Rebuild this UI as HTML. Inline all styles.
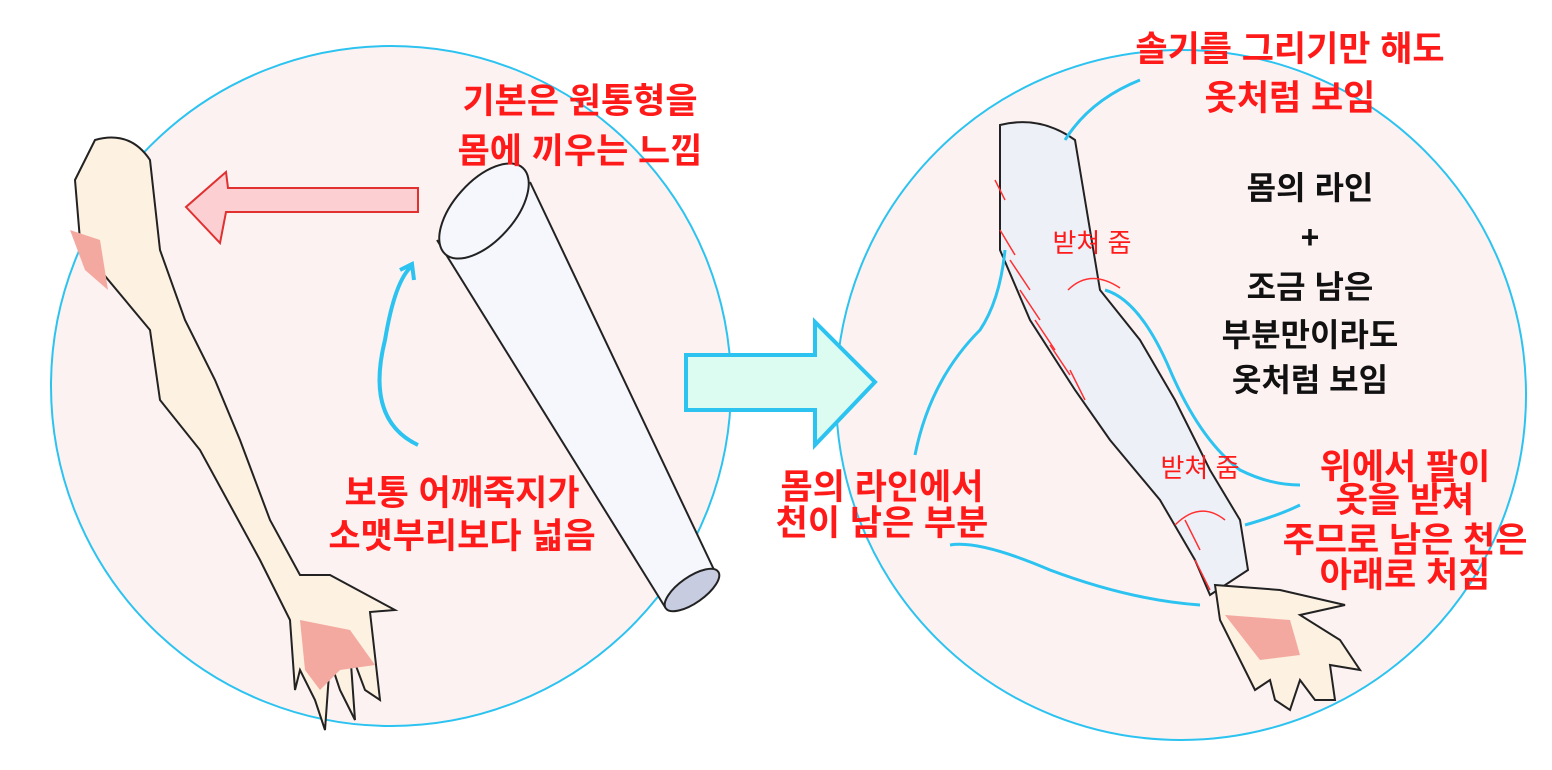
<!DOCTYPE html>
<html><head><meta charset="utf-8">
<style>
body{margin:0;background:#fff;}
svg{display:block}
.r{font-family:"Liberation Sans","Noto Sans CJK KR",sans-serif;font-weight:bold;fill:#ff1a1a;font-size:35px;text-anchor:middle}
.k{font-family:"Liberation Sans","Noto Sans CJK KR",sans-serif;font-weight:bold;fill:#111;font-size:32px;text-anchor:middle}
.h{font-family:"Liberation Sans","Noto Sans CJK KR",sans-serif;fill:#ff1a1a;font-size:26px;text-anchor:middle}
</style></head><body>
<svg width="1552" height="770" viewBox="0 0 1552 770">
<circle cx="391" cy="386" r="340" fill="#fdf2f2" stroke="#2cc3f0" stroke-width="2"/>
<circle cx="1181" cy="395" r="345" fill="#fdf2f2" stroke="#2cc3f0" stroke-width="2"/>
<!-- left arm -->
<path d="M95 140 Q130 130 150 160 L160 250 L185 320 L215 380 L240 440 L270 520 L300 575 L330 575 L395 610 L370 612 L380 700 L365 690 L350 650 L355 720 L340 690 L330 660 L325 730 L315 700 L300 670 L295 690 L290 620 L260 560 L200 450 L160 400 L150 330 L100 270 L80 240 L75 180 Z" fill="#fdf1e2" stroke="#222" stroke-width="2"/>
<path d="M70 230 L100 240 L108 290 L85 270 Z" fill="#f4a9a0"/>
<path d="M300 620 L350 630 L375 665 L340 670 L320 690 L305 670 Z" fill="#f4a9a0"/>
<path d="M418 188 L228 188 L226 172 L186 207 L220 243 L226 212 L418 212 Z" fill="#fccfd3" stroke="#e03030" stroke-width="2"/>
<path d="M437 240 L665 607 L716 574 L530 182" fill="#f6f7fd" stroke="#222" stroke-width="2"/>
<ellipse cx="484" cy="211" rx="30" ry="58" transform="rotate(42 484 211)" fill="#f6f7fd" stroke="#222" stroke-width="2"/>
<ellipse cx="692" cy="590" rx="13" ry="32" transform="rotate(55 692 590)" fill="#c8cce0" stroke="#222" stroke-width="2"/>
<path d="M418 445 Q365 420 385 340 Q395 280 412 266 M400 270 L412 264 L414 280" fill="none" stroke="#2cc3f0" stroke-width="4"/>
<path d="M686 355 L815 355 L815 322 L875 382 L815 445 L815 410 L686 410 Z" fill="#dcfbf1" stroke="#2cc3f0" stroke-width="4"/>
<!-- right arm -->
<path d="M1000 125 Q1040 115 1075 140 L1085 200 L1100 290 L1140 340 L1175 400 L1210 470 L1240 520 L1248 570 L1210 595 L1195 560 L1160 500 L1110 440 L1075 390 L1030 320 L1000 250 Z" fill="#eef0f8" stroke="#222" stroke-width="2"/>
<path d="M1215 585 L1280 590 L1345 605 L1300 615 L1340 640 L1360 670 L1330 665 L1335 700 L1315 700 L1300 680 L1290 710 L1275 700 L1270 680 L1255 690 L1220 620 Z" fill="#fdf1e2" stroke="#222" stroke-width="2"/>
<path d="M1225 615 L1290 620 L1300 655 L1260 660 Z" fill="#f4a9a0"/>
<g stroke="#ff3030" stroke-width="1.5">
<line x1="995" y1="180" x2="1005" y2="200"/><line x1="1000" y1="230" x2="1015" y2="255"/><line x1="1010" y1="260" x2="1030" y2="290"/><line x1="1020" y1="290" x2="1040" y2="320"/><line x1="1035" y1="320" x2="1055" y2="350"/><line x1="1050" y1="345" x2="1070" y2="375"/><line x1="1070" y1="370" x2="1085" y2="400"/><line x1="1185" y1="520" x2="1200" y2="550"/><line x1="1195" y1="560" x2="1210" y2="590"/>
</g>
<g fill="none" stroke="#2cc3f0" stroke-width="3">
<path d="M1065 140 Q1090 100 1140 80"/>
<path d="M915 455 Q930 380 980 330 Q1000 300 1005 250"/>
<path d="M950 545 Q980 540 1050 570 Q1130 600 1200 605"/>
<path d="M1105 290 Q1140 300 1170 370 Q1200 440 1240 470 Q1270 485 1300 485"/>
<path d="M1245 525 Q1280 515 1300 505"/>
</g>
<path d="M1068 290 Q1090 268 1120 288 M1175 525 Q1200 500 1225 520" fill="none" stroke="#ff3030" stroke-width="1.5"/>
<text class="r" x="580" y="113">기본은 원통형을</text>
<text class="r" x="580" y="163">몸에 끼우는 느낌</text>
<text class="r" x="462" y="505">보통 어깨죽지가</text>
<text class="r" x="462" y="548">소맷부리보다 넓음</text>
<text class="r" x="1290" y="61">솔기를 그리기만 해도</text>
<text class="r" x="1290" y="110">옷처럼 보임</text>
<text class="k" x="1310" y="199">몸의 라인</text>
<text class="k" x="1310" y="248">+</text>
<text class="k" x="1310" y="298">조금 남은</text>
<text class="k" x="1310" y="346">부분만이라도</text>
<text class="k" x="1310" y="391">옷처럼 보임</text>
<text class="r" x="882" y="499">몸의 라인에서</text>
<text class="r" x="882" y="535">천이 남은 부분</text>
<text class="r" x="1405" y="479">위에서 팔이</text>
<text class="r" x="1405" y="512">옷을 받쳐</text>
<text class="r" x="1405" y="552">주므로 남은 천은</text>
<text class="r" x="1405" y="587">아래로 처짐</text>
<text class="h" x="1092" y="252">받쳐 줌</text>
<text class="h" x="1200" y="477">받쳐 줌</text>
</svg>
</body></html>
